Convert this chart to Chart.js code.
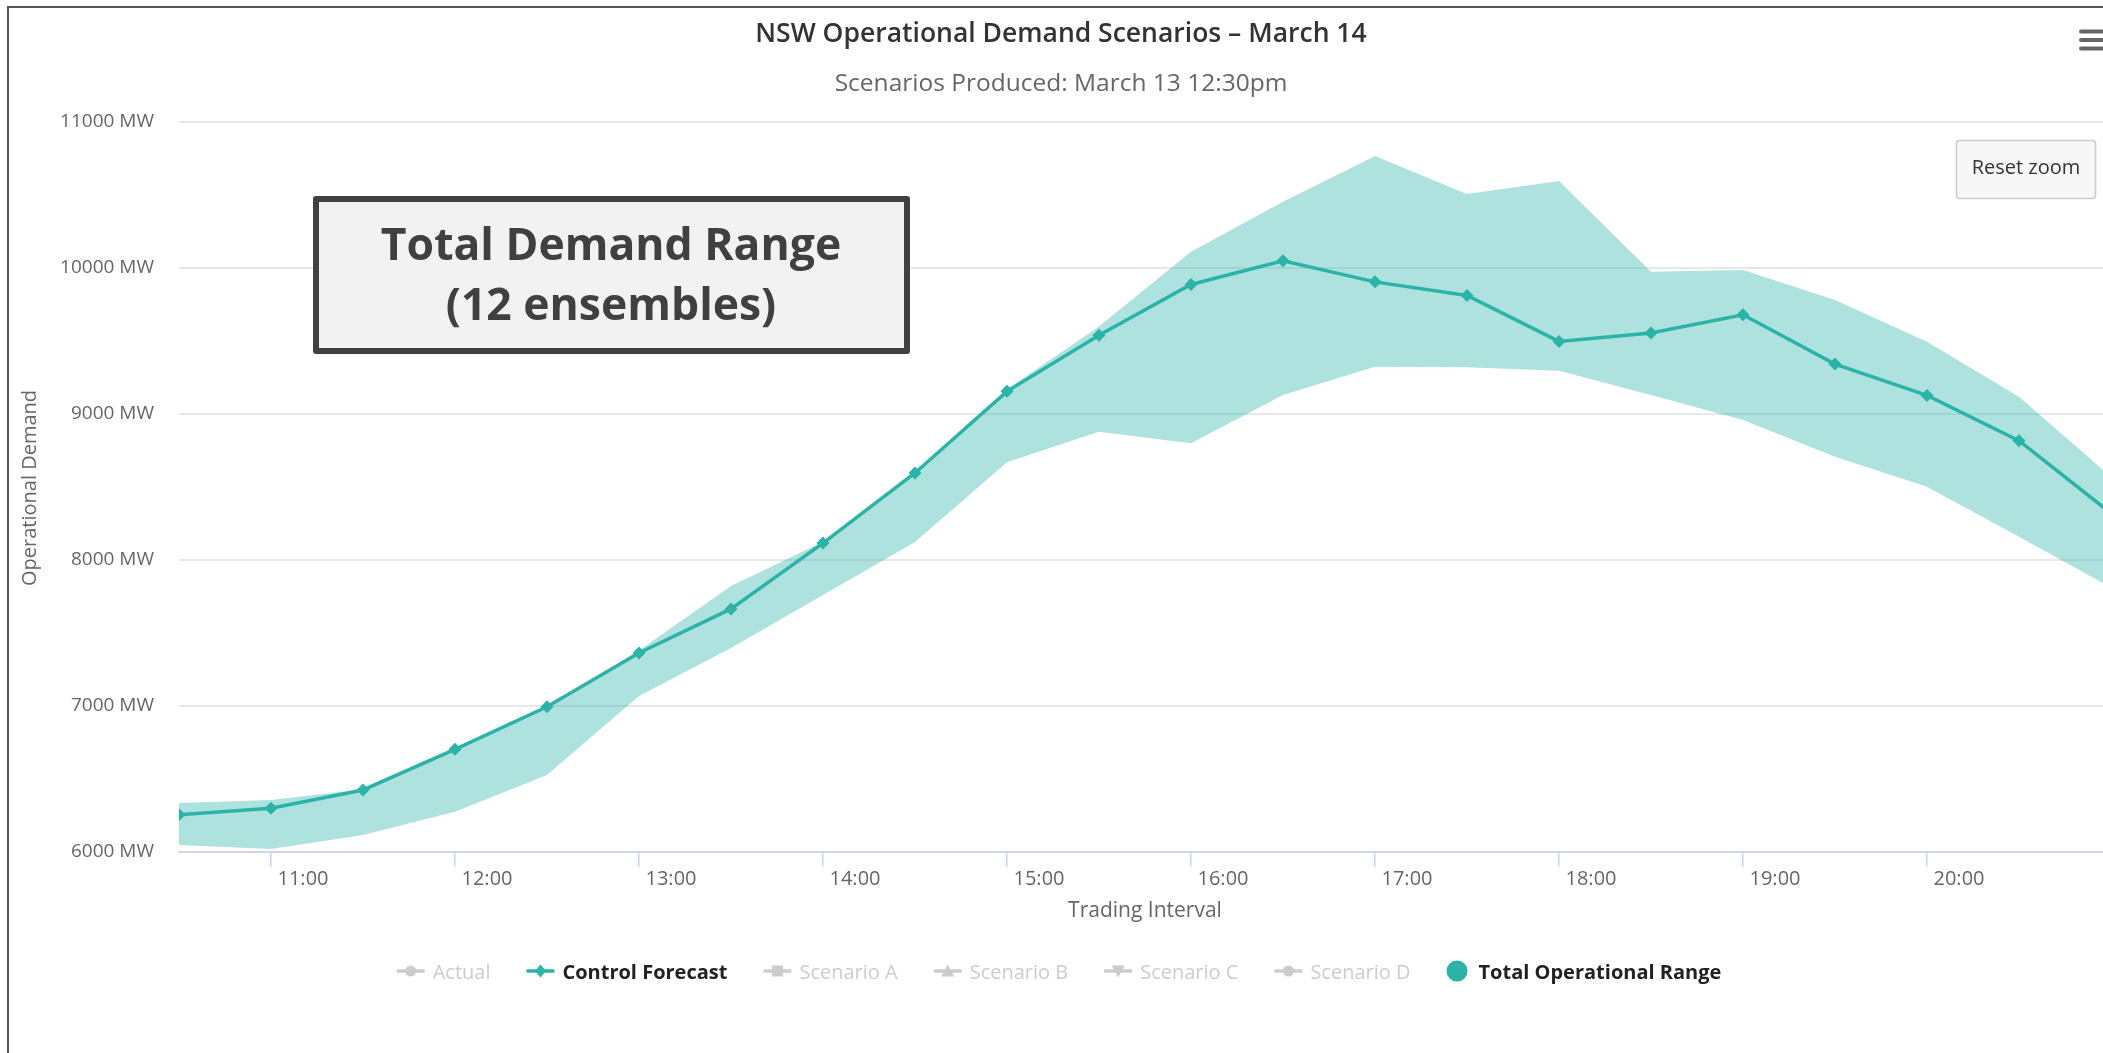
<!DOCTYPE html>
<html>
<head>
<meta charset="utf-8">
<title>NSW Operational Demand Scenarios – March 14</title>
<script src="https://cdn.jsdelivr.net/npm/chart.js@4.4.1/dist/chart.umd.min.js"></script>
<style>
  html, body { margin: 0; padding: 0; background: #ffffff; overflow: hidden; }
  canvas { display: block; }
</style>
</head>
<body>
<canvas id="demandChart" width="2250" height="1053"></canvas>
<script>
// Trading intervals (hour of day) and demand values in MW
const intervalHours = [10.5, 11, 11.5, 12, 12.5, 13, 13.5, 14, 14.5, 15, 15.5,
                       16, 16.5, 17, 17.5, 18, 18.5, 19, 19.5, 20, 20.5, 21];
const controlForecast = [6255, 6300, 6425, 6703, 6995, 7363, 7665, 8116, 8596, 9155, 9540,
                         9887, 10050, 9905, 9812, 9497, 9555, 9680, 9342, 9127, 8817, 8320];
const rangeHigh = [6336, 6356, 6430, 6710, 7000, 7380, 7822, 8125, 8600, 9170, 9600,
                   10112, 10454, 10767, 10507, 10596, 9975, 9986, 9781, 9495, 9118, 8570];
const rangeLow = [6048, 6020, 6116, 6276, 6527, 7068, 7397, 7760, 8123, 8670, 8879,
                  8799, 9130, 9324, 9320, 9297, 9130, 8959, 8708, 8502, 8160, 7812];

// Axis ticks
const hourTicks = [11, 12, 13, 14, 15, 16, 17, 18, 19, 20];
const hourTickLabels = ['11:00', '12:00', '13:00', '14:00', '15:00', '16:00', '17:00', '18:00', '19:00', '20:00'];
const demandTicks = [6000, 7000, 8000, 9000, 10000, 11000];

// Legend entries (series names, marker shape, shown or hidden)
const seriesNames = ['Actual', 'Control Forecast', 'Scenario A', 'Scenario B', 'Scenario C', 'Scenario D', 'Total Operational Range'];
const seriesMarkers = ['circle', 'diamond', 'square', 'triangle', 'triangle-down', 'circle', 'range'];
const seriesShown = [false, true, false, false, false, false, true];

const TEAL = '#2bb3a7';
const BAND = 'rgba(43, 179, 167, 0.38)';
const FONT = '"Open Sans", "DejaVu Sans", sans-serif';

const toPoints = vals => intervalHours.map((h, i) => ({ x: h, y: vals[i] }));

function markerPath(ctx, kind, x, y, r) {
  ctx.beginPath();
  if (kind === 'circle') {
    ctx.arc(x, y, r, 0, Math.PI * 2);
  } else if (kind === 'diamond') {
    ctx.moveTo(x, y - r - 1); ctx.lineTo(x + r, y); ctx.lineTo(x, y + r + 1); ctx.lineTo(x - r, y); ctx.closePath();
  } else if (kind === 'square') {
    ctx.rect(x - r, y - r, 2 * r, 2 * r);
  } else if (kind === 'triangle') {
    ctx.moveTo(x, y - r - 1); ctx.lineTo(x + r + 1, y + r); ctx.lineTo(x - r - 1, y + r); ctx.closePath();
  } else if (kind === 'triangle-down') {
    ctx.moveTo(x, y + r + 1); ctx.lineTo(x + r + 1, y - r); ctx.lineTo(x - r - 1, y - r); ctx.closePath();
  }
}

const decorations = {
  id: 'decorations',
  afterDraw(chart) {
    const ctx = chart.ctx;
    ctx.save();

    // outer frame (left and top edges)
    ctx.strokeStyle = '#555555';
    ctx.lineWidth = 2;
    ctx.beginPath();
    ctx.moveTo(8, 1060); ctx.lineTo(8, 7); ctx.lineTo(2250, 7);
    ctx.stroke();

    // title and subtitle
    ctx.textAlign = 'center';
    ctx.textBaseline = 'alphabetic';
    ctx.fillStyle = '#333333';
    ctx.font = '600 26.5px ' + FONT;
    ctx.fillText('NSW Operational Demand Scenarios – March 14', 1061, 42);
    ctx.fillStyle = '#666666';
    ctx.font = '400 24.5px ' + FONT;
    ctx.fillText('Scenarios Produced: March 13 12:30pm', 1061, 91);

    // axis titles
    ctx.font = '400 21px ' + FONT;
    ctx.fillText('Trading Interval', 1145, 917);
    ctx.save();
    ctx.translate(36, 488);
    ctx.rotate(-Math.PI / 2);
    ctx.font = '400 20px ' + FONT;
    ctx.fillText('Operational Demand', 0, 0);
    ctx.restore();

    // annotation box
    ctx.fillStyle = '#f2f2f2';
    ctx.fillRect(316, 199, 591, 152);
    ctx.strokeStyle = '#404040';
    ctx.lineWidth = 6;
    ctx.lineJoin = 'round';
    ctx.strokeRect(316, 199, 591, 152);
    ctx.fillStyle = '#404040';
    ctx.font = '700 44.5px ' + FONT;
    ctx.fillText('Total Demand Range', 611, 260);
    ctx.fillText('(12 ensembles)', 611, 320);

    // reset zoom button
    ctx.fillStyle = '#f7f7f7';
    ctx.strokeStyle = '#cccccc';
    ctx.lineWidth = 1.5;
    ctx.beginPath();
    ctx.roundRect(1956.5, 140.5, 139, 58, 3);
    ctx.fill();
    ctx.stroke();
    ctx.fillStyle = '#333333';
    ctx.font = '400 20px ' + FONT;
    ctx.textBaseline = 'middle';
    ctx.fillText('Reset zoom', 2026, 168);

    // menu icon
    ctx.fillStyle = '#666666';
    [31.5, 40, 48.5].forEach(cy => {
      ctx.beginPath();
      ctx.roundRect(2079, cy - 2, 32, 4, 2);
      ctx.fill();
    });

    // legend
    const legendY = 971;
    const items = seriesNames.map((name, i) => {
      const shown = seriesShown[i];
      const font = (shown ? '700' : '400') + ' 20px ' + FONT;
      ctx.font = font;
      const isRange = seriesMarkers[i] === 'range';
      return {
        name, shown, font, kind: seriesMarkers[i],
        symW: isRange ? 22 : 28, gap: isRange ? 10 : 8,
        textW: ctx.measureText(name).width
      };
    });
    const spacing = 36;
    const total = items.reduce((s, it) => s + it.symW + it.gap + it.textW, 0) + spacing * (items.length - 1);
    let x = 1059 - total / 2;
    ctx.textAlign = 'left';
    ctx.textBaseline = 'alphabetic';
    items.forEach(it => {
      const color = it.shown ? TEAL : '#cccccc';
      if (it.kind === 'range') {
        ctx.fillStyle = color;
        ctx.beginPath();
        ctx.arc(x + 10.5, legendY, 10.5, 0, Math.PI * 2);
        ctx.fill();
      } else {
        ctx.strokeStyle = color;
        ctx.lineWidth = 3.5;
        ctx.beginPath();
        ctx.moveTo(x, legendY); ctx.lineTo(x + it.symW, legendY);
        ctx.stroke();
        ctx.fillStyle = color;
        markerPath(ctx, it.kind, x + it.symW / 2, legendY, 5.5);
        ctx.fill();
      }
      ctx.fillStyle = it.shown ? '#222222' : '#cccccc';
      ctx.font = it.font;
      ctx.fillText(it.name, x + it.symW + it.gap, legendY + 8);
      x += it.symW + it.gap + it.textW + spacing;
    });

    ctx.restore();
  }
};

new Chart(document.getElementById('demandChart'), {
  type: 'line',
  data: {
    datasets: [
      {
        label: 'Control Forecast',
        data: toPoints(controlForecast),
        borderColor: TEAL,
        backgroundColor: TEAL,
        borderWidth: 3.5,
        pointStyle: 'rectRot',
        pointRadius: 6.5,
        pointBorderWidth: 0,
        pointBackgroundColor: TEAL,
        tension: 0,
        fill: false,
        order: 0
      },
      {
        label: 'Total Operational Range',
        data: toPoints(rangeHigh),
        borderWidth: 0,
        pointRadius: 0,
        backgroundColor: BAND,
        fill: '+1',
        tension: 0,
        order: 1
      },
      {
        label: 'Total Operational Range (low)',
        data: toPoints(rangeLow),
        borderWidth: 0,
        pointRadius: 0,
        fill: false,
        tension: 0,
        order: 2
      }
    ]
  },
  options: {
    responsive: false,
    animation: false,
    events: [],
    layout: { padding: { left: 0, top: 122, right: 2250 - 2111, bottom: 1053 - 852 - 40 } },
    plugins: {
      legend: { display: false },
      title: { display: false },
      tooltip: { enabled: false }
    },
    scales: {
      x: {
        type: 'linear',
        min: intervalHours[0],
        max: intervalHours[intervalHours.length - 1],
        afterBuildTicks: scale => { scale.ticks = hourTicks.map(v => ({ value: v })); },
        afterFit: scale => { scale.height = 40; },
        grid: { drawOnChartArea: false, drawTicks: true, tickLength: 15, color: '#ccd6eb', lineWidth: 1.5 },
        border: { color: '#ccd6eb', width: 2 },
        ticks: {
          autoSkip: false,
          maxRotation: 0,
          labelOffset: 32,
          padding: 0,
          color: '#666666',
          font: { family: FONT, size: 20 },
          callback: v => hourTickLabels[hourTicks.indexOf(v)]
        }
      },
      y: {
        min: demandTicks[0],
        max: demandTicks[demandTicks.length - 1],
        afterBuildTicks: scale => { scale.ticks = demandTicks.map(v => ({ value: v })); },
        afterFit: scale => { scale.width = 179; },
        grid: { color: '#e8e8e8', lineWidth: 2, drawTicks: false },
        border: { display: false },
        ticks: {
          padding: 25,
          color: '#666666',
          font: { family: FONT, size: 19 },
          callback: v => v + ' MW'
        }
      }
    }
  },
  plugins: [decorations]
});
</script>
</body>
</html>
